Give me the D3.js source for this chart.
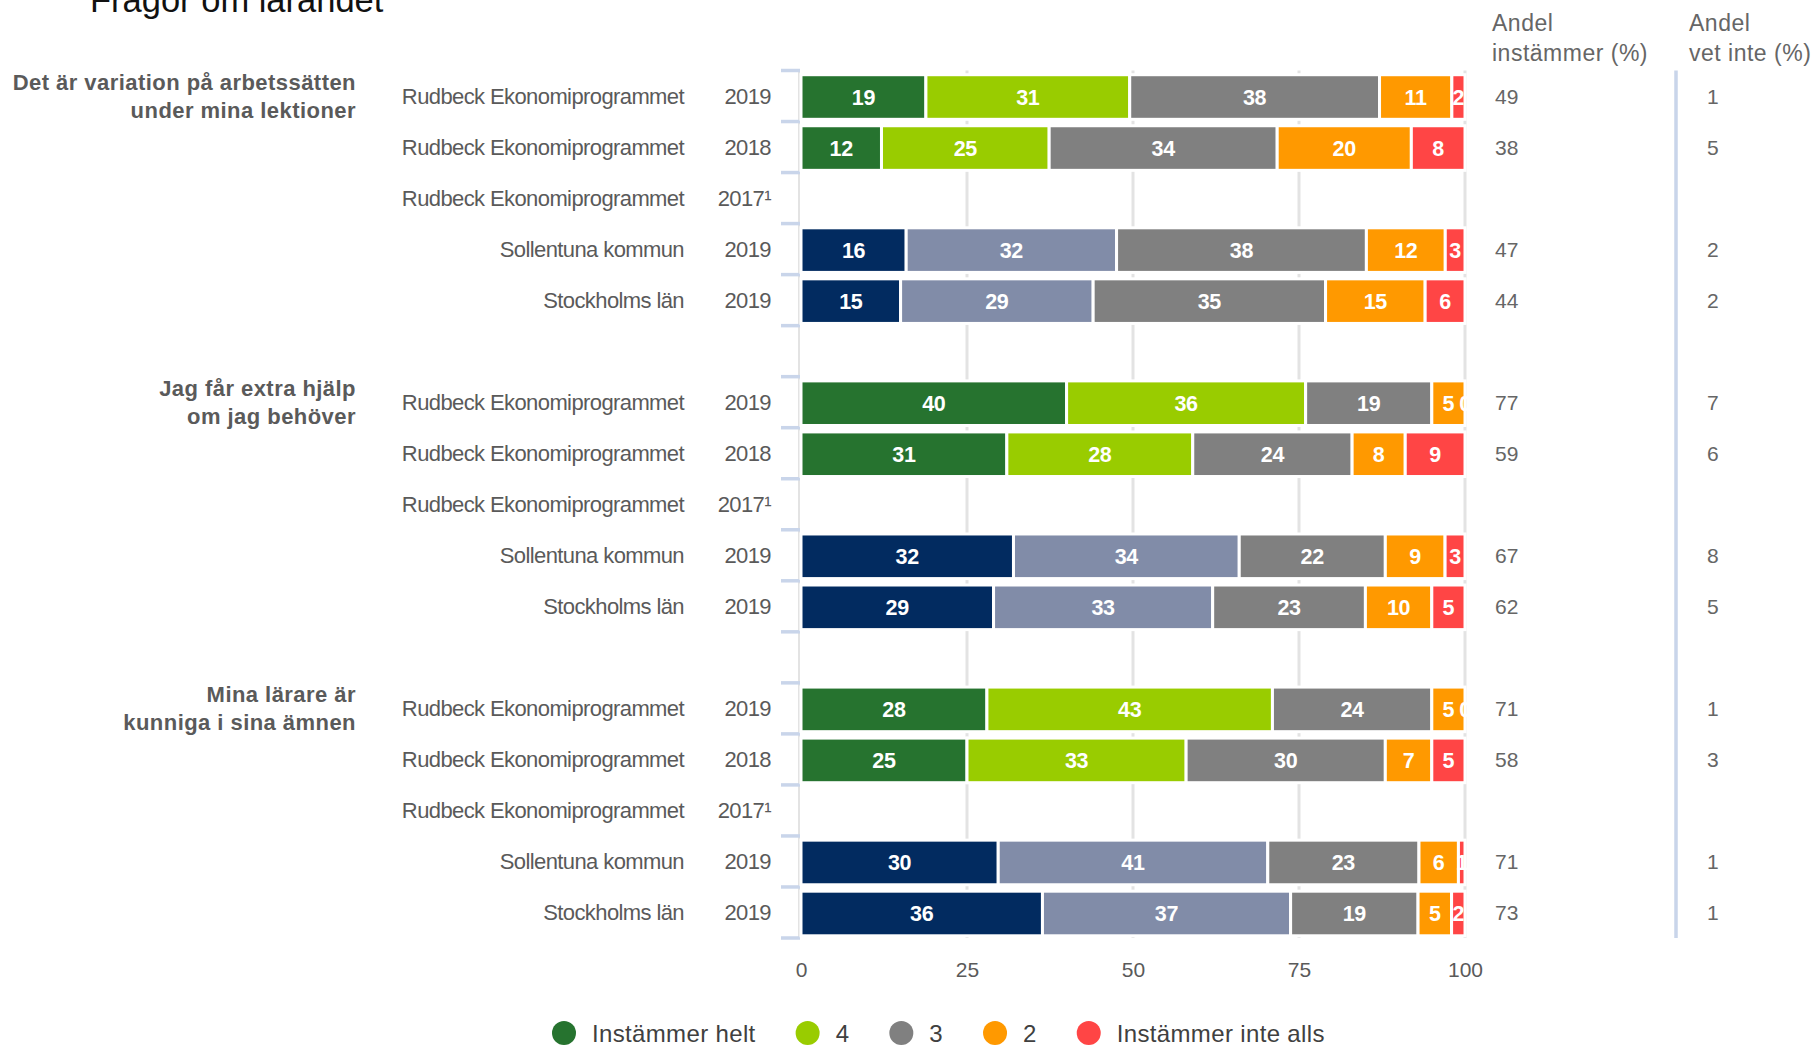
<!DOCTYPE html>
<html>
<head>
<meta charset="utf-8">
<script src="https://cdn.jsdelivr.net/npm/d3@7"></script>
<style>
  html, body { margin: 0; padding: 0; background: #fff; }
  svg { display: block; font-family: "Liberation Sans", Arial, sans-serif; }
</style>
</head>
<body>
<svg id="chart" width="1812" height="1047"></svg>
<script>
// ---------------- DATA ----------------
const title = "Frågor om lärandet";
const questions = [
  ["Det är variation på arbetssätten", "under mina lektioner"],
  ["Jag får extra hjälp", "om jag behöver"],
  ["Mina lärare är", "kunniga i sina ämnen"]
];
const units = ["Rudbeck Ekonomiprogrammet", "Rudbeck Ekonomiprogrammet", "Rudbeck Ekonomiprogrammet", "Sollentuna kommun", "Stockholms län"];
const years = ["2019", "2018", "2017¹", "2019", "2019"];
const isComparison = [false, false, false, true, true];
const categories = ["Instämmer helt", "4", "3", "2", "Instämmer inte alls"];

// values per row: [Instämmer helt, 4, 3, 2, Instämmer inte alls]; null = no data (2017)
const q1Values = [[19, 31, 38, 11, 2], [12, 25, 34, 20, 8], null, [16, 32, 38, 12, 3], [15, 29, 35, 15, 6]];
const q2Values = [[40, 36, 19, 5, 0], [31, 28, 24, 8, 9], null, [32, 34, 22, 9, 3], [29, 33, 23, 10, 5]];
const q3Values = [[28, 43, 24, 5, 0], [25, 33, 30, 7, 5], null, [30, 41, 23, 6, 1], [36, 37, 19, 5, 2]];
const q1Agree = [49, 38, null, 47, 44];
const q2Agree = [77, 59, null, 67, 62];
const q3Agree = [71, 58, null, 71, 73];
const q1DontKnow = [1, 5, null, 2, 2];
const q2DontKnow = [7, 6, null, 8, 5];
const q3DontKnow = [1, 3, null, 1, 1];
const xTicks = [0, 25, 50, 75, 100];
const headerAgree = ["Andel", "instämmer (%)"];
const headerDontKnow = ["Andel", "vet inte (%)"];

// ---------------- STYLE ----------------
const colorsSchool = ["#26732f", "#99cc00", "#808080", "#ff9900", "#ff4545"];
const colorsComp = ["#022b60", "#818ca8", "#808080", "#ff9900", "#ff4545"];
const textGray = "#5a5a5a";

const allValues = [q1Values, q2Values, q3Values];
const allAgree = [q1Agree, q2Agree, q3Agree];
const allDontKnow = [q1DontKnow, q2DontKnow, q3DontKnow];

// build row slots (with a spacer slot between groups)
const slots = [];
questions.forEach((q, qi) => {
  units.forEach((u, ri) => {
    slots.push({ key: `q${qi}r${ri}`, qi, ri, unit: u, year: years[ri], comp: isComparison[ri],
      values: allValues[qi][ri], agree: allAgree[qi][ri], dk: allDontKnow[qi][ri] });
  });
  if (qi < questions.length - 1) slots.push({ key: `gap${qi}`, spacer: true });
});

const svg = d3.select("#chart");

const x = d3.scaleLinear().domain([0, 100]).range([801, 1465]);
const y = d3.scaleBand().domain(slots.map(d => d.key)).range([70.5, 938]).paddingInner(0).paddingOuter(0);
const bw = y.bandwidth();
const barPad = 0.063;

// title
svg.append("text").attr("x", 90).attr("y", 12).attr("font-size", 34.5).attr("fill", "#111").text(title);

// gridlines
svg.append("g").selectAll("line").data(xTicks.filter(t => t > 0)).join("line")
  .attr("x1", d => x(d)).attr("x2", d => x(d))
  .attr("y1", y.range()[0]).attr("y2", y.range()[1])
  .attr("stroke", "#e3e3e3").attr("stroke-width", 3);

// left axis line
svg.append("line").attr("x1", x(0) - 2).attr("x2", x(0) - 2)
  .attr("y1", y.range()[0]).attr("y2", y.range()[1])
  .attr("stroke", "#e3e3e3").attr("stroke-width", 2);

// left ticks at band boundaries
const boundaries = slots.map(d => y(d.key)).concat([y.range()[1]]);
svg.append("g").selectAll("line").data(boundaries).join("line")
  .attr("x1", x(0) - 20).attr("x2", x(0) - 1)
  .attr("y1", d => d).attr("y2", d => d)
  .attr("stroke", "#c9d5ea").attr("stroke-width", 3.5);

// right separator line
svg.append("line").attr("x1", 1676).attr("x2", 1676)
  .attr("y1", y.range()[0]).attr("y2", y.range()[1])
  .attr("stroke", "#c9d5ea").attr("stroke-width", 3.5);

// x axis labels
const xAxis = d3.axisBottom(x).tickValues(xTicks).tickSize(0).tickPadding(24).tickFormat(d3.format("d"));
const xg = svg.append("g").attr("transform", `translate(0,${y.range()[1]})`).call(xAxis);
xg.select(".domain").remove();
xg.selectAll("text").attr("font-size", 21).attr("fill", textGray).attr("font-family", "Liberation Sans, Arial, sans-serif");

// clip for bars
svg.append("clipPath").attr("id", "plotclip").append("rect")
  .attr("x", x(0) - 2).attr("y", 0).attr("width", x(100) - x(0) + 4).attr("height", 1047);

const dataRows = slots.filter(d => !d.spacer);

// stacked bars
const barsG = svg.append("g").attr("clip-path", "url(#plotclip)");
dataRows.filter(d => d.values).forEach(row => {
  const total = d3.sum(row.values);
  let cum = 0;
  const segs = row.values.map((v, i) => {
    const s = { v, i, x0: cum / total * 100, x1: (cum + v) / total * 100 };
    cum += v;
    return s;
  });
  const cols = row.comp ? colorsComp : colorsSchool;
  const top = y(row.key) + bw * barPad + 1;
  const h = bw * (1 - 2 * barPad);
  const g = barsG.append("g");
  g.selectAll("rect").data(segs.filter(s => s.v > 0)).join("rect")
    .attr("x", s => x(s.x0)).attr("width", s => x(s.x1) - x(s.x0))
    .attr("y", top).attr("height", h)
    .attr("fill", s => cols[s.i]).attr("stroke", "#fff").attr("stroke-width", 3);
  g.selectAll("text").data(segs).join("text")
    .attr("x", s => (x(s.x0) + x(s.x1)) / 2)
    .attr("y", top + h / 2 + 7.5)
    .attr("text-anchor", "middle").attr("font-size", 21.5).attr("font-weight", "bold")
    .attr("letter-spacing", -0.3)
    .attr("fill", "#fff").text(s => s.v);
});

// row labels
svg.append("g").selectAll("text").data(dataRows).join("text")
  .attr("x", 684).attr("y", d => y(d.key) + bw / 2 + 7.5)
  .attr("text-anchor", "end").attr("font-size", 22).attr("letter-spacing", -0.6)
  .attr("fill", textGray).text(d => d.unit);
svg.append("g").selectAll("text").data(dataRows).join("text")
  .attr("x", 771).attr("y", d => y(d.key) + bw / 2 + 7.5)
  .attr("text-anchor", "end").attr("font-size", 22).attr("letter-spacing", -0.6)
  .attr("fill", textGray).text(d => d.year);

// group labels
questions.forEach((lines, qi) => {
  const c = y(`q${qi}r0`) + bw / 2;
  const t = svg.append("text").attr("text-anchor", "end").attr("font-size", 22)
    .attr("font-weight", "bold").attr("letter-spacing", 0.45).attr("fill", textGray);
  lines.forEach((ln, li) => {
    t.append("tspan").attr("x", 356).attr("y", c + (li - (lines.length - 1) / 2) * 28 + 7.5).text(ln);
  });
});

// right columns
svg.append("g").selectAll("text").data(dataRows.filter(d => d.agree != null)).join("text")
  .attr("x", 1495).attr("y", d => y(d.key) + bw / 2 + 7.5)
  .attr("font-size", 21).attr("fill", "#666").text(d => d.agree);
svg.append("g").selectAll("text").data(dataRows.filter(d => d.dk != null)).join("text")
  .attr("x", 1707).attr("y", d => y(d.key) + bw / 2 + 7.5)
  .attr("font-size", 21).attr("fill", "#666").text(d => d.dk);

[[headerAgree, 1492], [headerDontKnow, 1689]].forEach(([lines, hx]) => {
  const t = svg.append("text").attr("font-size", 23).attr("letter-spacing", 0.5).attr("fill", "#666");
  lines.forEach((ln, li) => t.append("tspan").attr("x", hx).attr("y", 31 + li * 30).text(ln));
});

// legend
const legend = svg.append("g");
let lx = 552;
const ly = 1033;
categories.forEach((c, i) => {
  legend.append("circle").attr("cx", lx + 12).attr("cy", ly).attr("r", 12).attr("fill", colorsSchool[i]);
  const t = legend.append("text").attr("x", lx + 40).attr("y", ly + 8.5)
    .attr("font-size", 24).attr("letter-spacing", 0.35).attr("fill", "#404040").text(c);
  lx = lx + 40 + t.node().getComputedTextLength() + 40;
});
</script>
</body>
</html>
